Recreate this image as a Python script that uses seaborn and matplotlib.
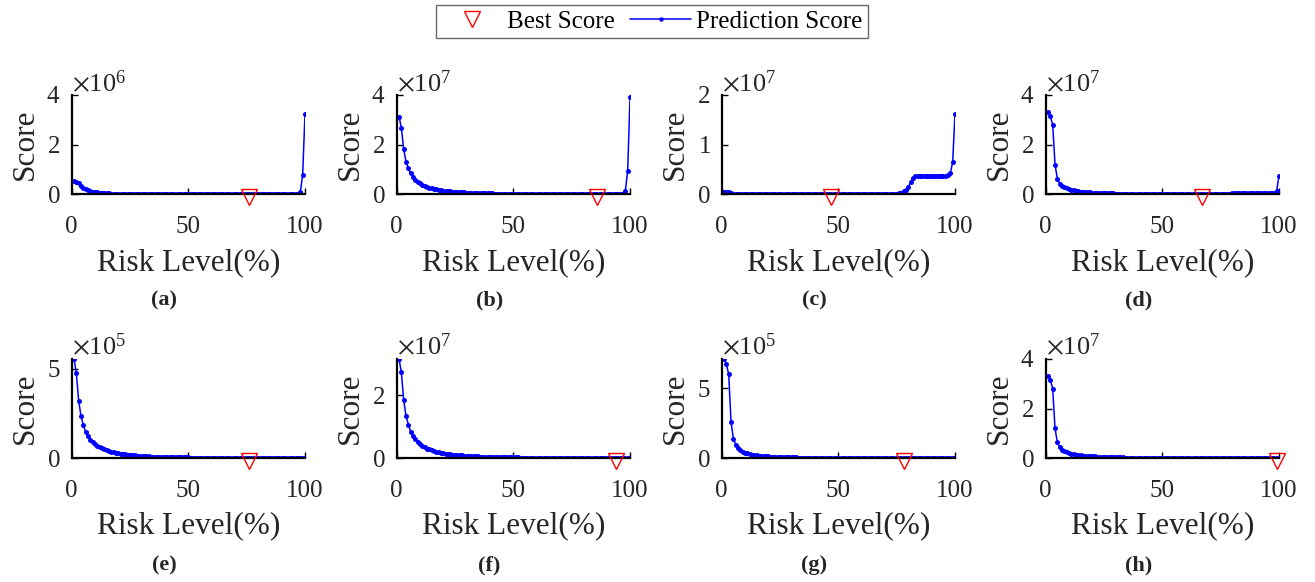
import numpy as np
import pandas as pd
import matplotlib
matplotlib.use("Agg")
import matplotlib.pyplot as plt
import matplotlib.transforms as mtransforms
from matplotlib.lines import Line2D
import seaborn as sns

# ------------------------------------------------------------------
# Data (score values in units of the panel multiplier)
# ------------------------------------------------------------------
risk_level = list(range(1, 101))

score_a = [0.55, 0.52, 0.45, 0.34, 0.27, 0.22, 0.18, 0.15, 0.12, 0.10,
           0.085, 0.072, 0.062, 0.054, 0.047, 0.041, 0.036, 0.032, 0.028, 0.025,
           0.022, 0.020, 0.018, 0.016, 0.015, 0.013, 0.012, 0.011, 0.010, 0.009,
           0.008, 0.008, 0.007, 0.007, 0.006, 0.006, 0.006, 0.005, 0.005, 0.005,
           0.005, 0.004, 0.004, 0.004, 0.004, 0.004, 0.003, 0.003, 0.003, 0.003,
           0.003, 0.003, 0.003, 0.003, 0.003, 0.002, 0.002, 0.002, 0.002, 0.002,
           0.002, 0.002, 0.002, 0.002, 0.002, 0.002, 0.002, 0.002, 0.002, 0.002,
           0.002, 0.002, 0.002, 0.002, 0.002, 0.002, 0.002, 0.002, 0.002, 0.002,
           0.002, 0.002, 0.002, 0.002, 0.002, 0.002, 0.002, 0.002, 0.002, 0.003,
           0.003, 0.003, 0.003, 0.003, 0.004, 0.006, 0.02, 0.10, 0.80, 3.25]

score_b = [3.13, 2.68, 1.81, 1.32, 1.05, 0.85, 0.71, 0.60, 0.52, 0.45,
           0.40, 0.35, 0.31, 0.28, 0.25, 0.23, 0.21, 0.19, 0.17, 0.16,
           0.15, 0.14, 0.13, 0.12, 0.11, 0.10, 0.095, 0.09, 0.085, 0.08,
           0.075, 0.07, 0.066, 0.062, 0.058, 0.055, 0.052, 0.049, 0.046, 0.044,
           0.042, 0.040, 0.038, 0.036, 0.034, 0.033, 0.032, 0.030, 0.029, 0.028,
           0.027, 0.026, 0.025, 0.024, 0.023, 0.022, 0.021, 0.020, 0.019, 0.018,
           0.018, 0.017, 0.016, 0.016, 0.015, 0.015, 0.014, 0.014, 0.013, 0.013,
           0.012, 0.012, 0.011, 0.011, 0.010, 0.010, 0.010, 0.009, 0.009, 0.009,
           0.008, 0.008, 0.008, 0.008, 0.007, 0.007, 0.007, 0.007, 0.007, 0.007,
           0.007, 0.008, 0.008, 0.009, 0.010, 0.012, 0.02, 0.15, 0.94, 3.90]

score_c = [0.05, 0.05, 0.05, 0.04, 0.02, 0.01, 0.006, 0.005, 0.004, 0.004,
           0.003, 0.003, 0.003, 0.003, 0.003, 0.003, 0.003, 0.003, 0.003, 0.003,
           0.003, 0.003, 0.003, 0.003, 0.003, 0.003, 0.003, 0.003, 0.003, 0.003,
           0.003, 0.003, 0.003, 0.003, 0.003, 0.003, 0.003, 0.003, 0.003, 0.003,
           0.003, 0.003, 0.003, 0.003, 0.003, 0.003, 0.003, 0.003, 0.003, 0.003,
           0.003, 0.003, 0.003, 0.003, 0.003, 0.003, 0.003, 0.003, 0.003, 0.003,
           0.003, 0.003, 0.004, 0.004, 0.004, 0.005, 0.005, 0.006, 0.007, 0.008,
           0.009, 0.011, 0.013, 0.016, 0.02, 0.025, 0.04, 0.07, 0.10, 0.15,
           0.25, 0.33, 0.38, 0.38, 0.38, 0.38, 0.38, 0.38, 0.38, 0.38,
           0.38, 0.38, 0.38, 0.38, 0.38, 0.38, 0.39, 0.43, 0.65, 1.62]

score_d = [3.30, 3.15, 2.80, 1.20, 0.64, 0.44, 0.35, 0.29, 0.25, 0.22,
           0.19, 0.17, 0.15, 0.135, 0.12, 0.11, 0.10, 0.09, 0.085, 0.08,
           0.075, 0.07, 0.065, 0.06, 0.056, 0.052, 0.049, 0.046, 0.043, 0.040,
           0.038, 0.036, 0.034, 0.032, 0.030, 0.029, 0.028, 0.026, 0.025, 0.024,
           0.023, 0.022, 0.021, 0.020, 0.019, 0.018, 0.018, 0.017, 0.016, 0.016,
           0.015, 0.015, 0.014, 0.014, 0.013, 0.013, 0.012, 0.012, 0.012, 0.011,
           0.011, 0.011, 0.010, 0.010, 0.010, 0.010, 0.010, 0.010, 0.011, 0.012,
           0.013, 0.015, 0.017, 0.019, 0.022, 0.025, 0.03, 0.035, 0.04, 0.045,
           0.05, 0.05, 0.05, 0.05, 0.05, 0.05, 0.05, 0.05, 0.05, 0.05,
           0.05, 0.05, 0.05, 0.05, 0.05, 0.06, 0.07, 0.08, 0.15, 0.75]

score_e = [5.57, 4.75, 3.20, 2.36, 1.85, 1.45, 1.23, 1.05, 0.92, 0.80,
           0.71, 0.63, 0.56, 0.50, 0.45, 0.41, 0.37, 0.34, 0.31, 0.28,
           0.26, 0.24, 0.22, 0.20, 0.19, 0.17, 0.16, 0.15, 0.14, 0.13,
           0.12, 0.115, 0.11, 0.10, 0.095, 0.09, 0.085, 0.08, 0.076, 0.072,
           0.068, 0.065, 0.062, 0.059, 0.056, 0.053, 0.051, 0.049, 0.047, 0.045,
           0.043, 0.041, 0.039, 0.038, 0.036, 0.035, 0.034, 0.032, 0.031, 0.030,
           0.029, 0.028, 0.027, 0.026, 0.025, 0.025, 0.024, 0.023, 0.022, 0.022,
           0.021, 0.020, 0.020, 0.019, 0.019, 0.018, 0.018, 0.017, 0.017, 0.016,
           0.016, 0.015, 0.015, 0.015, 0.014, 0.014, 0.014, 0.013, 0.013, 0.013,
           0.012, 0.012, 0.012, 0.012, 0.011, 0.011, 0.011, 0.011, 0.010, 0.010]

score_f = [3.15, 2.72, 1.84, 1.34, 1.07, 0.84, 0.72, 0.61, 0.52, 0.45,
           0.40, 0.35, 0.31, 0.28, 0.25, 0.23, 0.21, 0.19, 0.17, 0.16,
           0.15, 0.14, 0.13, 0.12, 0.11, 0.10, 0.095, 0.09, 0.085, 0.08,
           0.075, 0.07, 0.066, 0.062, 0.058, 0.055, 0.052, 0.049, 0.046, 0.044,
           0.042, 0.040, 0.038, 0.036, 0.034, 0.033, 0.032, 0.030, 0.029, 0.028,
           0.027, 0.026, 0.025, 0.024, 0.023, 0.022, 0.021, 0.020, 0.019, 0.018,
           0.018, 0.017, 0.016, 0.016, 0.015, 0.015, 0.014, 0.014, 0.013, 0.013,
           0.012, 0.012, 0.011, 0.011, 0.010, 0.010, 0.010, 0.009, 0.009, 0.009,
           0.008, 0.008, 0.008, 0.008, 0.007, 0.007, 0.007, 0.007, 0.007, 0.007,
           0.006, 0.006, 0.006, 0.006, 0.006, 0.006, 0.006, 0.006, 0.006, 0.006]

score_g = [7.08, 6.70, 5.97, 2.60, 1.40, 0.97, 0.72, 0.58, 0.48, 0.41,
           0.35, 0.31, 0.27, 0.24, 0.21, 0.19, 0.17, 0.16, 0.14, 0.13,
           0.12, 0.11, 0.10, 0.095, 0.09, 0.085, 0.08, 0.075, 0.07, 0.066,
           0.062, 0.059, 0.056, 0.053, 0.050, 0.048, 0.046, 0.044, 0.042, 0.040,
           0.038, 0.036, 0.035, 0.033, 0.032, 0.031, 0.030, 0.029, 0.028, 0.027,
           0.026, 0.025, 0.024, 0.023, 0.023, 0.022, 0.021, 0.021, 0.020, 0.020,
           0.019, 0.019, 0.018, 0.018, 0.017, 0.017, 0.016, 0.016, 0.016, 0.015,
           0.015, 0.015, 0.014, 0.014, 0.014, 0.013, 0.013, 0.013, 0.013, 0.012,
           0.012, 0.012, 0.012, 0.011, 0.011, 0.011, 0.011, 0.011, 0.010, 0.010,
           0.010, 0.010, 0.010, 0.010, 0.010, 0.009, 0.009, 0.009, 0.009, 0.009]

score_h = [3.30, 3.15, 2.80, 1.20, 0.64, 0.44, 0.35, 0.29, 0.25, 0.22,
           0.19, 0.17, 0.15, 0.135, 0.12, 0.11, 0.10, 0.09, 0.085, 0.08,
           0.075, 0.07, 0.065, 0.06, 0.056, 0.052, 0.049, 0.046, 0.043, 0.040,
           0.038, 0.036, 0.034, 0.032, 0.030, 0.029, 0.028, 0.026, 0.025, 0.024,
           0.023, 0.022, 0.021, 0.020, 0.019, 0.018, 0.018, 0.017, 0.016, 0.016,
           0.015, 0.015, 0.014, 0.014, 0.013, 0.013, 0.012, 0.012, 0.012, 0.011,
           0.011, 0.011, 0.010, 0.010, 0.010, 0.010, 0.009, 0.009, 0.009, 0.009,
           0.008, 0.008, 0.008, 0.008, 0.008, 0.007, 0.007, 0.007, 0.007, 0.007,
           0.007, 0.006, 0.006, 0.006, 0.006, 0.006, 0.006, 0.006, 0.005, 0.005,
           0.005, 0.005, 0.005, 0.005, 0.005, 0.005, 0.005, 0.005, 0.005, 0.005]

panel_labels = ["(a)", "(b)", "(c)", "(d)", "(e)", "(f)", "(g)", "(h)"]
scores = [score_a, score_b, score_c, score_d, score_e, score_f, score_g, score_h]
multipliers = [1e6, 1e7, 1e7, 1e7, 1e5, 1e7, 1e5, 1e7]
best_risk = [76, 86, 47, 67, 76, 94, 78, 99]
y_top = [4, 4, 2, 4, 5.57, 3.15, 7.08, 4]
y_step = [2, 2, 1, 2, 5, 2, 5, 2]

# ------------------------------------------------------------------
# Style
# ------------------------------------------------------------------
sns.set_theme(style="ticks")
plt.rcParams["font.family"] = ["Liberation Serif", "DejaVu Serif"]
plt.rcParams["mathtext.fontset"] = "stix"

W, H = 1315, 582
fig = plt.figure(figsize=(W / 100, H / 100), dpi=100)

col_left = [71.7, 396.7, 721.7, 1045.7]
row_bottom = [194.5, 458.3]
ax_w, ax_h = 233.3, 99.5
text_col = "#262626"

for i in range(8):
    r, c = divmod(i, 4)
    left = col_left[c] / W
    bottom = 1 - row_bottom[r] / H
    ax = fig.add_axes([left, bottom, ax_w / W, ax_h / H])

    m = multipliers[i]
    df = pd.DataFrame({"risk": risk_level,
                       "score": np.array(scores[i]) * m})

    sns.lineplot(data=df, x="risk", y="score", ax=ax, color="blue",
                 linewidth=1.1, marker="o", markersize=3.6,
                 markeredgewidth=0)

    # best score marker, nudged a little down like the original figure
    bx = best_risk[i]
    by = df.loc[df["risk"] == bx, "score"].values[0]
    shift = mtransforms.ScaledTranslation(0, -3 / 100, fig.dpi_scale_trans)
    ax.plot([bx], [by], marker="v", linestyle="none", markersize=12,
            markerfacecolor="none", markeredgecolor="red",
            markeredgewidth=1.0, clip_on=False, zorder=5,
            transform=ax.transData + shift)

    ax.set_xlim(0, 100)
    ax.set_ylim(0, y_top[i] * m)
    ax.set_xticks([0, 50, 100])
    ax.set_yticks(np.arange(0, y_top[i] + 1e-9, y_step[i]) * m)
    ax.ticklabel_format(axis="y", style="sci", scilimits=(0, 0),
                        useMathText=True)
    ax.yaxis.get_offset_text().set_fontsize(19)
    ax.yaxis.get_offset_text().set_color(text_col)

    ax.tick_params(direction="in", length=4, width=1, labelsize=18,
                   colors="black", labelcolor=text_col)
    ax.tick_params(axis="x", pad=15.5)
    ax.tick_params(axis="y", pad=8)
    for side in ["left", "bottom"]:
        ax.spines[side].set_linewidth(1.6)
        ax.spines[side].set_color("black")
    sns.despine(ax=ax)

    ax.set_xlabel("Risk Level(%)", fontsize=22.5, labelpad=7, color=text_col)
    ax.set_ylabel("Score", fontsize=22.5, labelpad=5, color=text_col)

    lab_x = (col_left[c] + ax_w / 2 - 24) / W
    lab_y = 1 - (300 if r == 0 else 565) / H
    fig.text(lab_x, lab_y, panel_labels[i], fontsize=16, fontweight="bold",
             ha="center", va="center")

handles = [
    Line2D([], [], marker="v", linestyle="none", markersize=12,
           markerfacecolor="none", markeredgecolor="red"),
    Line2D([], [], color="blue", linewidth=1.1, marker="o", markersize=3.2,
           markeredgewidth=0),
]
leg = fig.legend(handles, ["Best Score", "Prediction Score"],
                 loc="center", bbox_to_anchor=(652 / W, 1 - 21.5 / H),
                 ncol=2, fontsize=18, frameon=True, fancybox=False,
                 edgecolor="#444444", handlelength=2.44, columnspacing=0.6,
                 handletextpad=0.2, borderpad=0.2, borderaxespad=0)
leg.get_frame().set_linewidth(1.0)
for t in leg.get_texts():
    t.set_color("black")

fig.savefig("out.png", dpi=100, facecolor="white")
